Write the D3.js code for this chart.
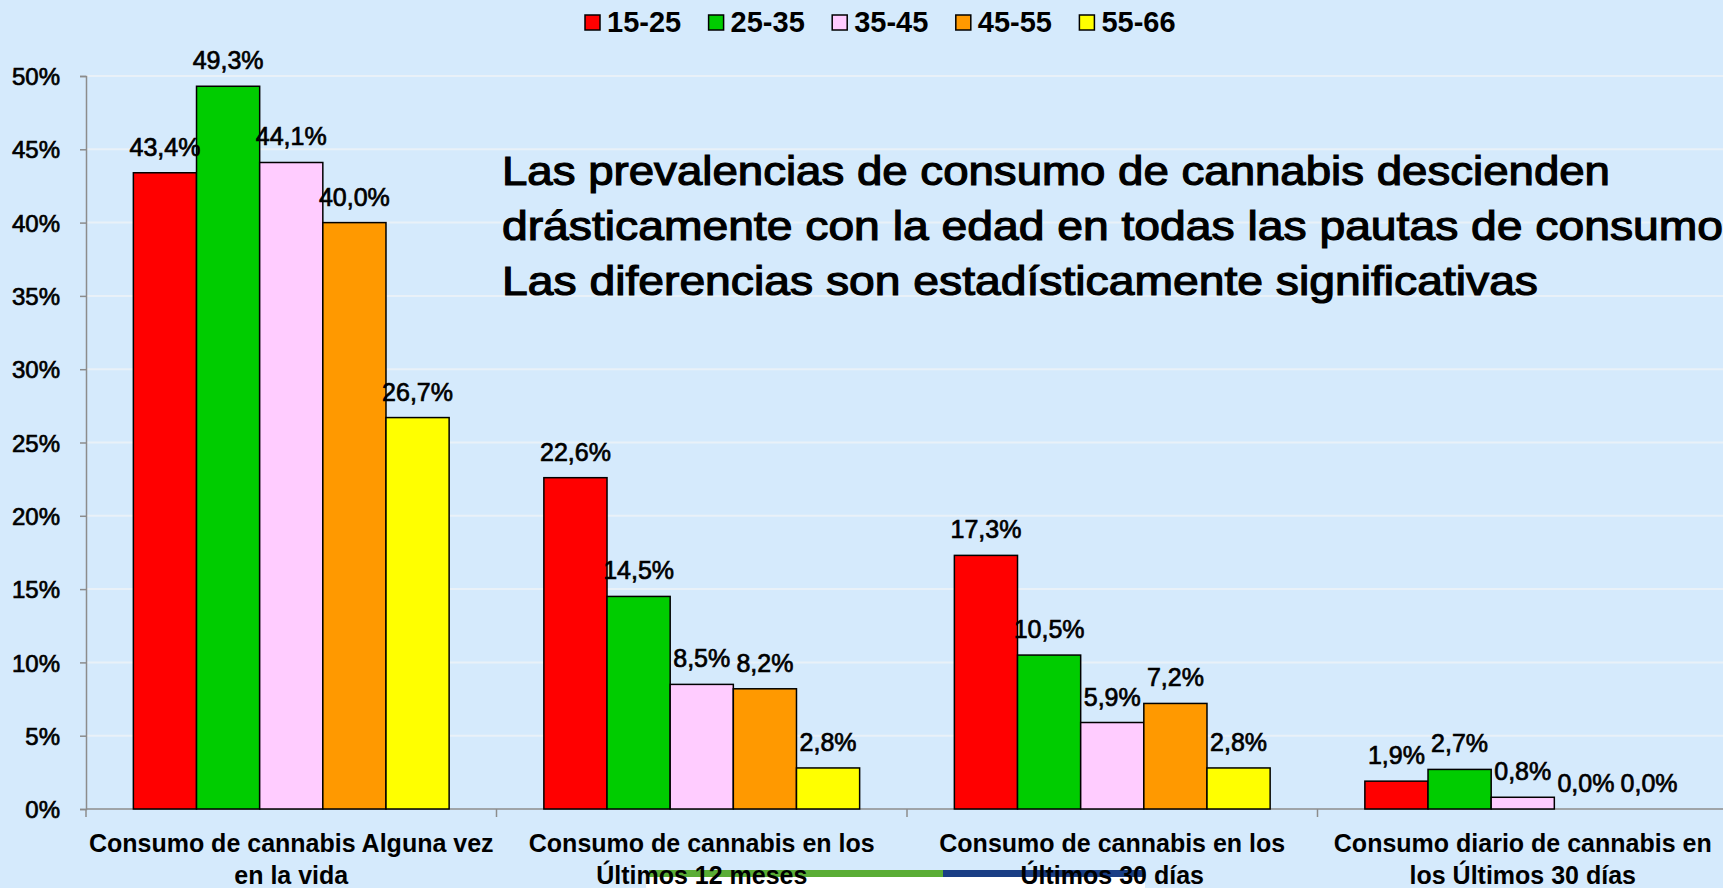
<!DOCTYPE html>
<html>
<head>
<meta charset="utf-8">
<script src="https://cdn.jsdelivr.net/npm/d3@7"></script>
<style>
  html, body { margin: 0; padding: 0; background: #d5eafc; overflow: hidden; }
  text { font-family: "Liberation Sans", Arial, sans-serif; fill: #000; }
</style>
</head>
<body>
<div id="d3-container"></div>
<script>
// categories, two lines each
let categories = [
    ["Consumo de cannabis Alguna vez", "en la vida"],
    ["Consumo de cannabis en los", "Últimos 12 meses"],
    ["Consumo de cannabis en los", "Últimos 30 días"],
    ["Consumo diario de cannabis en", "los Últimos 30 días"]
];
let series = ["15-25", "25-35", "35-45", "45-55", "55-66"];
let colors = ["#ff0000", "#00cc00", "#ffccff", "#ff9900", "#ffff00"];

let v15_25 = [43.4, 22.6, 17.3, 1.9];
let v25_35 = [49.3, 14.5, 10.5, 2.7];
let v35_45 = [44.1, 8.5, 5.9, 0.8];
let v45_55 = [40.0, 8.2, 7.2, 0.0];
let v55_66 = [26.7, 2.8, 2.8, 0.0];
let values = [v15_25, v25_35, v35_45, v45_55, v55_66];

let y_ticks = [0, 5, 10, 15, 20, 25, 30, 35, 40, 45, 50];

let note_lines = [
    "Las prevalencias de consumo de cannabis descienden",
    "drásticamente con la edad en todas las pautas de consumo",
    "Las diferencias son estadísticamente significativas"
];

let window_width = 1723;
let window_height = 888;

let plot_left = 86;
let plot_right = 1728;
let plot_top = 76;
let plot_bottom = 809;

function init(){
    let svg = d3.select("#d3-container").append("svg")
        .attr("width", window_width)
        .attr("height", window_height);

    svg.append("rect")
        .attr("width", window_width)
        .attr("height", window_height)
        .attr("fill", "#d5eafc");

    let x0 = d3.scaleBand()
        .domain(d3.range(categories.length))
        .range([plot_left, plot_right])
        .padding(0);

    let x1 = d3.scaleBand()
        .domain(series)
        .range([0, x0.bandwidth()])
        .paddingInner(0)
        .paddingOuter(0.75);

    let y = d3.scaleLinear()
        .domain([0, 50])
        .range([plot_bottom, plot_top]);

    // gridlines
    svg.append("g")
        .selectAll("line")
        .data(y_ticks.filter(d => d > 0))
        .enter()
        .append("line")
        .attr("x1", plot_left)
        .attr("x2", window_width)
        .attr("y1", d => y(d))
        .attr("y2", d => y(d))
        .attr("stroke", "#e9f1f8")
        .attr("stroke-width", 2);

    // decorative strip at the bottom
    svg.append("rect").attr("x", 646).attr("y", 877).attr("width", 499).attr("height", 11).attr("fill", "#ffffff");
    svg.append("rect").attr("x", 649).attr("y", 870).attr("width", 294).attr("height", 7).attr("fill", "#5aad35");
    svg.append("rect").attr("x", 943).attr("y", 870).attr("width", 202).attr("height", 7).attr("fill", "#1a3e85");

    // y axis
    let y_axis = svg.append("g")
        .attr("transform", "translate(" + plot_left + ",0)")
        .call(d3.axisLeft(y).tickValues(y_ticks).tickSize(6).tickPadding(20).tickFormat(d => d + "%"));
    y_axis.select(".domain").attr("stroke", "#8c8c8c").attr("stroke-width", 1.5);
    y_axis.selectAll(".tick line").attr("stroke", "#8c8c8c").attr("stroke-width", 1.5);
    y_axis.selectAll(".tick text")
        .style("font-family", "Liberation Sans, Arial, sans-serif")
        .style("font-size", "24px")
        .attr("dy", "0.36em")
        .attr("fill", "#000")
        .attr("stroke", "#000")
        .attr("stroke-width", 0.7);

    // x axis line and ticks between groups
    svg.append("line")
        .attr("x1", plot_left).attr("x2", window_width)
        .attr("y1", plot_bottom).attr("y2", plot_bottom)
        .attr("stroke", "#8c8c8c").attr("stroke-width", 1.5);
    svg.append("g")
        .selectAll("line")
        .data(d3.range(categories.length + 1))
        .enter()
        .append("line")
        .attr("x1", d => plot_left + d * x0.bandwidth())
        .attr("x2", d => plot_left + d * x0.bandwidth())
        .attr("y1", plot_bottom)
        .attr("y2", plot_bottom + 8)
        .attr("stroke", "#8c8c8c").attr("stroke-width", 1.5);

    // bars
    let bar_data = [];
    for (let s = 0; s < series.length; s++){
        for (let c = 0; c < categories.length; c++){
            bar_data.push({s: s, c: c, v: values[s][c]});
        }
    }

    svg.append("g")
        .selectAll("rect")
        .data(bar_data.filter(d => d.v > 0))
        .enter()
        .append("rect")
        .attr("x", d => x0(d.c) + x1(series[d.s]))
        .attr("y", d => y(d.v))
        .attr("width", x1.bandwidth())
        .attr("height", d => y(0) - y(d.v))
        .attr("fill", d => colors[d.s])
        .attr("stroke", "#000")
        .attr("stroke-width", 1.5);

    svg.append("g")
        .selectAll("text")
        .data(bar_data)
        .enter()
        .append("text")
        .attr("x", d => x0(d.c) + x1(series[d.s]) + x1.bandwidth() / 2)
        .attr("y", d => y(d.v) - 17)
        .attr("text-anchor", "middle")
        .attr("stroke", "#000")
        .attr("stroke-width", 0.7)
        .style("font-size", "25px")
        .text(d => d.v.toFixed(1).replace(".", ",") + "%");

    // category labels
    let cat = svg.append("g")
        .selectAll("text")
        .data(categories)
        .enter()
        .append("text")
        .attr("text-anchor", "middle")
        .style("font-size", "25px")
        .style("font-weight", "bold");
    cat.append("tspan")
        .attr("x", (d, i) => x0(i) + x0.bandwidth() / 2)
        .attr("y", 852)
        .text(d => d[0]);
    cat.append("tspan")
        .attr("x", (d, i) => x0(i) + x0.bandwidth() / 2)
        .attr("y", 884)
        .text(d => d[1]);

    // legend
    let legend_x = 585;
    let legend_step = 123.6;
    let legend = svg.append("g")
        .selectAll("g")
        .data(series)
        .enter()
        .append("g")
        .attr("transform", (d, i) => "translate(" + (legend_x + i * legend_step) + ",15)");
    legend.append("rect")
        .attr("width", 15)
        .attr("height", 15)
        .attr("fill", (d, i) => colors[i])
        .attr("stroke", "#000")
        .attr("stroke-width", 1.5);
    legend.append("text")
        .attr("x", 22)
        .attr("y", 17)
        .style("font-size", "29px")
        .style("font-weight", "bold")
        .text(d => d);

    // note
    let note_widths = [1108, 1221, 1036];
    svg.append("g")
        .selectAll("text")
        .data(note_lines)
        .enter()
        .append("text")
        .attr("x", 502)
        .attr("y", (d, i) => 185 + i * 55)
        .attr("textLength", (d, i) => note_widths[i])
        .attr("lengthAdjust", "spacingAndGlyphs")
        .attr("stroke", "#000")
        .attr("stroke-width", 1.2)
        .style("font-size", "41px")
        .text(d => d);
}

init();
</script>
</body>
</html>
